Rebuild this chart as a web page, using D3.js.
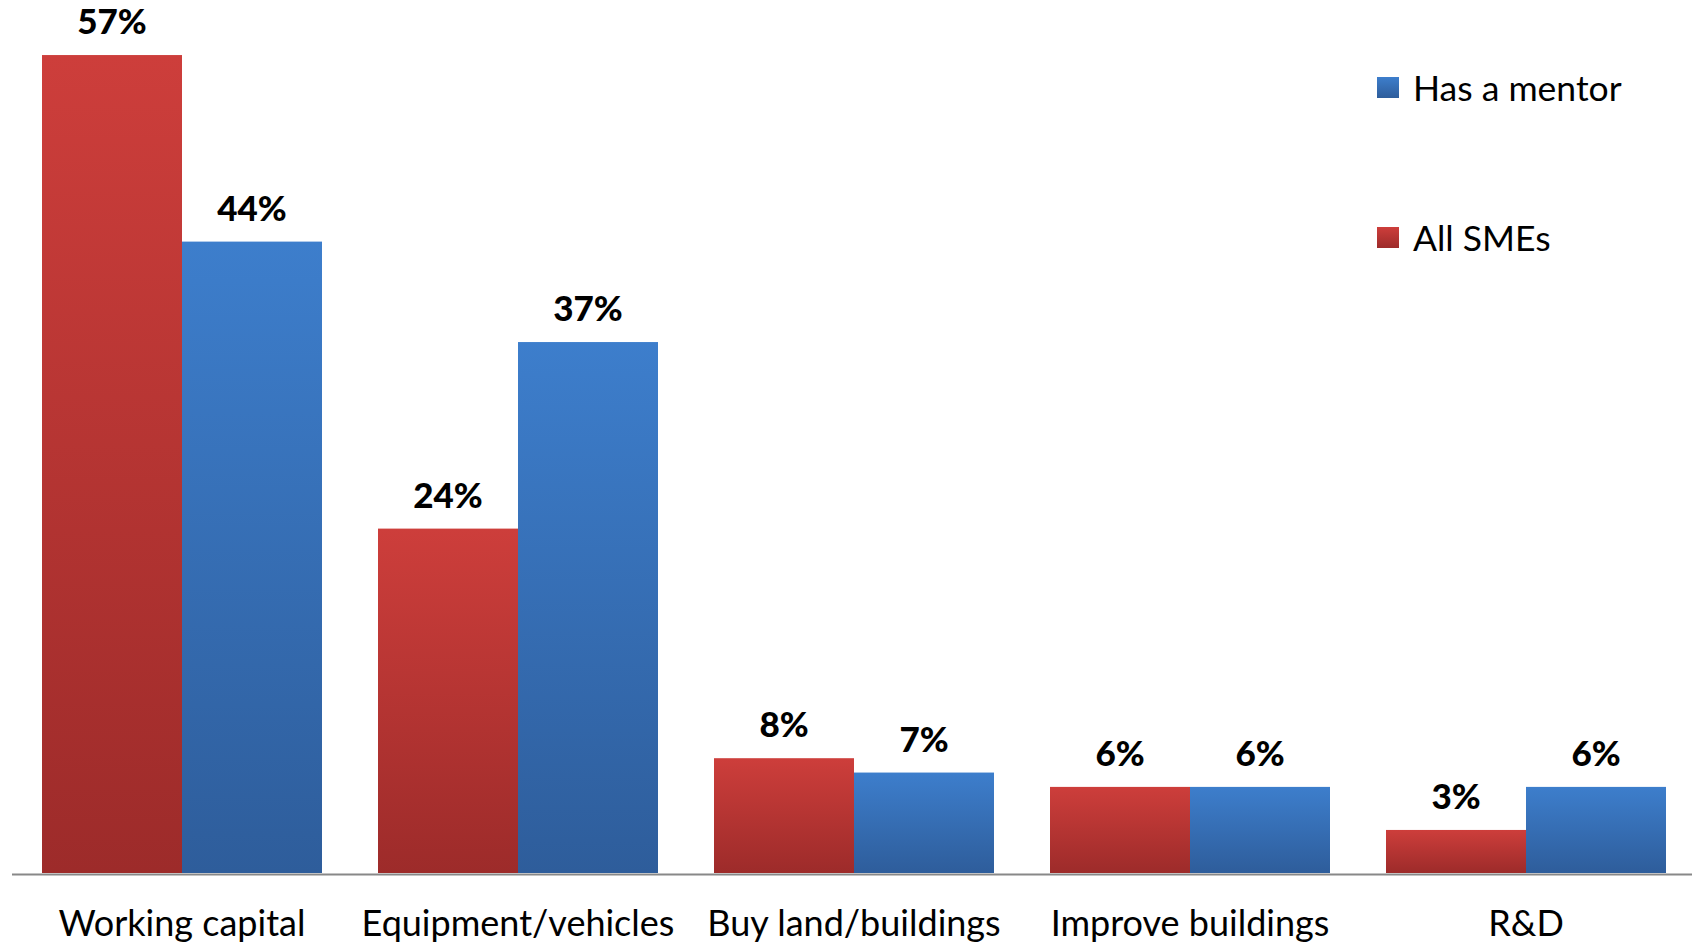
<!DOCTYPE html>
<html>
<head>
<meta charset="utf-8">
<script src="https://cdn.jsdelivr.net/npm/d3@7/dist/d3.min.js"></script>
<style>
  html, body { margin: 0; padding: 0; background: #ffffff; }
  svg { display: block; }
  text { font-family: Lato, "Open Sans", sans-serif; fill: #000; }
</style>
</head>
<body>
<svg id="chart" width="1692" height="944"></svg>
<script>
// Use of finance, by purpose
const categories = ["Working capital", "Equipment/vehicles", "Buy land/buildings", "Improve buildings", "R&D"];
const allSMEs    = [0.57, 0.24, 0.08, 0.06, 0.03];
const hasMentor  = [0.44, 0.37, 0.07, 0.06, 0.06];
const seriesKeys  = ["All SMEs", "Has a mentor"];
const legendOrder = ["Has a mentor", "All SMEs"];

const series = { "All SMEs": allSMEs, "Has a mentor": hasMentor };
const rows = categories.map((c, i) => ({
  category: c,
  values: seriesKeys.map(k => ({ key: k, value: series[k][i] }))
}));

const W = 1692, H = 944;
const svg = d3.select("#chart");

const baseY = 873;
const x0 = d3.scaleBand().domain(categories).range([14, 1694])
  .paddingInner(1 / 6).paddingOuter(1 / 12);
const x1 = d3.scaleBand().domain(seriesKeys).range([0, x0.bandwidth()]);
const y = d3.scaleLinear().domain([0, 0.6]).range([baseY, 12]);

// vertical gradients: lighter at the top of each bar
const defs = svg.append("defs");
const grad = {
  "All SMEs":     ["#cd3e3b", "#9d2b2a"],
  "Has a mentor": ["#3d7ecc", "#2e5d9b"]
};
const gradId = k => "g-" + k.replace(/\W/g, "");
Object.entries(grad).forEach(([k, [top, bottom]]) => {
  const g = defs.append("linearGradient").attr("id", gradId(k))
    .attr("x1", 0).attr("y1", 0).attr("x2", 0).attr("y2", 1);
  g.append("stop").attr("offset", "0%").attr("stop-color", top);
  g.append("stop").attr("offset", "100%").attr("stop-color", bottom);
});

const groups = svg.append("g").selectAll("g").data(rows).join("g")
  .attr("transform", d => `translate(${x0(d.category)},0)`);

groups.selectAll("rect").data(d => d.values).join("rect")
  .attr("x", d => x1(d.key))
  .attr("y", d => y(d.value))
  .attr("width", x1.bandwidth())
  .attr("height", d => baseY - y(d.value))
  .attr("fill", d => `url(#${gradId(d.key)})`);

groups.selectAll("text.val").data(d => d.values).join("text")
  .attr("class", "val")
  .attr("x", d => x1(d.key) + x1.bandwidth() / 2)
  .attr("y", d => y(d.value) - 21)
  .attr("text-anchor", "middle")
  .style("font-weight", 900)
  .style("font-size", "35px")
  .text(d => d3.format(".0%")(d.value));

// baseline
svg.append("line")
  .attr("x1", 12).attr("x2", W)
  .attr("y1", baseY + 1.5).attr("y2", baseY + 1.5)
  .attr("stroke", "#888888").attr("stroke-width", 2);

// category labels
const xAxis = d3.axisBottom(x0).tickSize(0).tickPadding(0);
const ax = svg.append("g").attr("transform", `translate(0,${baseY})`).call(xAxis);
ax.select(".domain").remove();
ax.selectAll("text")
  .attr("dy", null)
  .attr("y", 63)
  .style("font-family", "Lato, 'Open Sans', sans-serif")
  .style("font-size", "36px")
  .attr("fill", "#000");

// legend
const legend = svg.append("g").selectAll("g").data(legendOrder).join("g")
  .attr("transform", (d, i) => `translate(1377,${77 + i * 150})`);
legend.append("rect")
  .attr("width", 22).attr("height", 21)
  .attr("fill", d => `url(#${gradId(d)})`);
legend.append("text")
  .attr("x", 36).attr("y", 24)
  .style("font-size", "35.5px")
  .text(d => d);
</script>
</body>
</html>
